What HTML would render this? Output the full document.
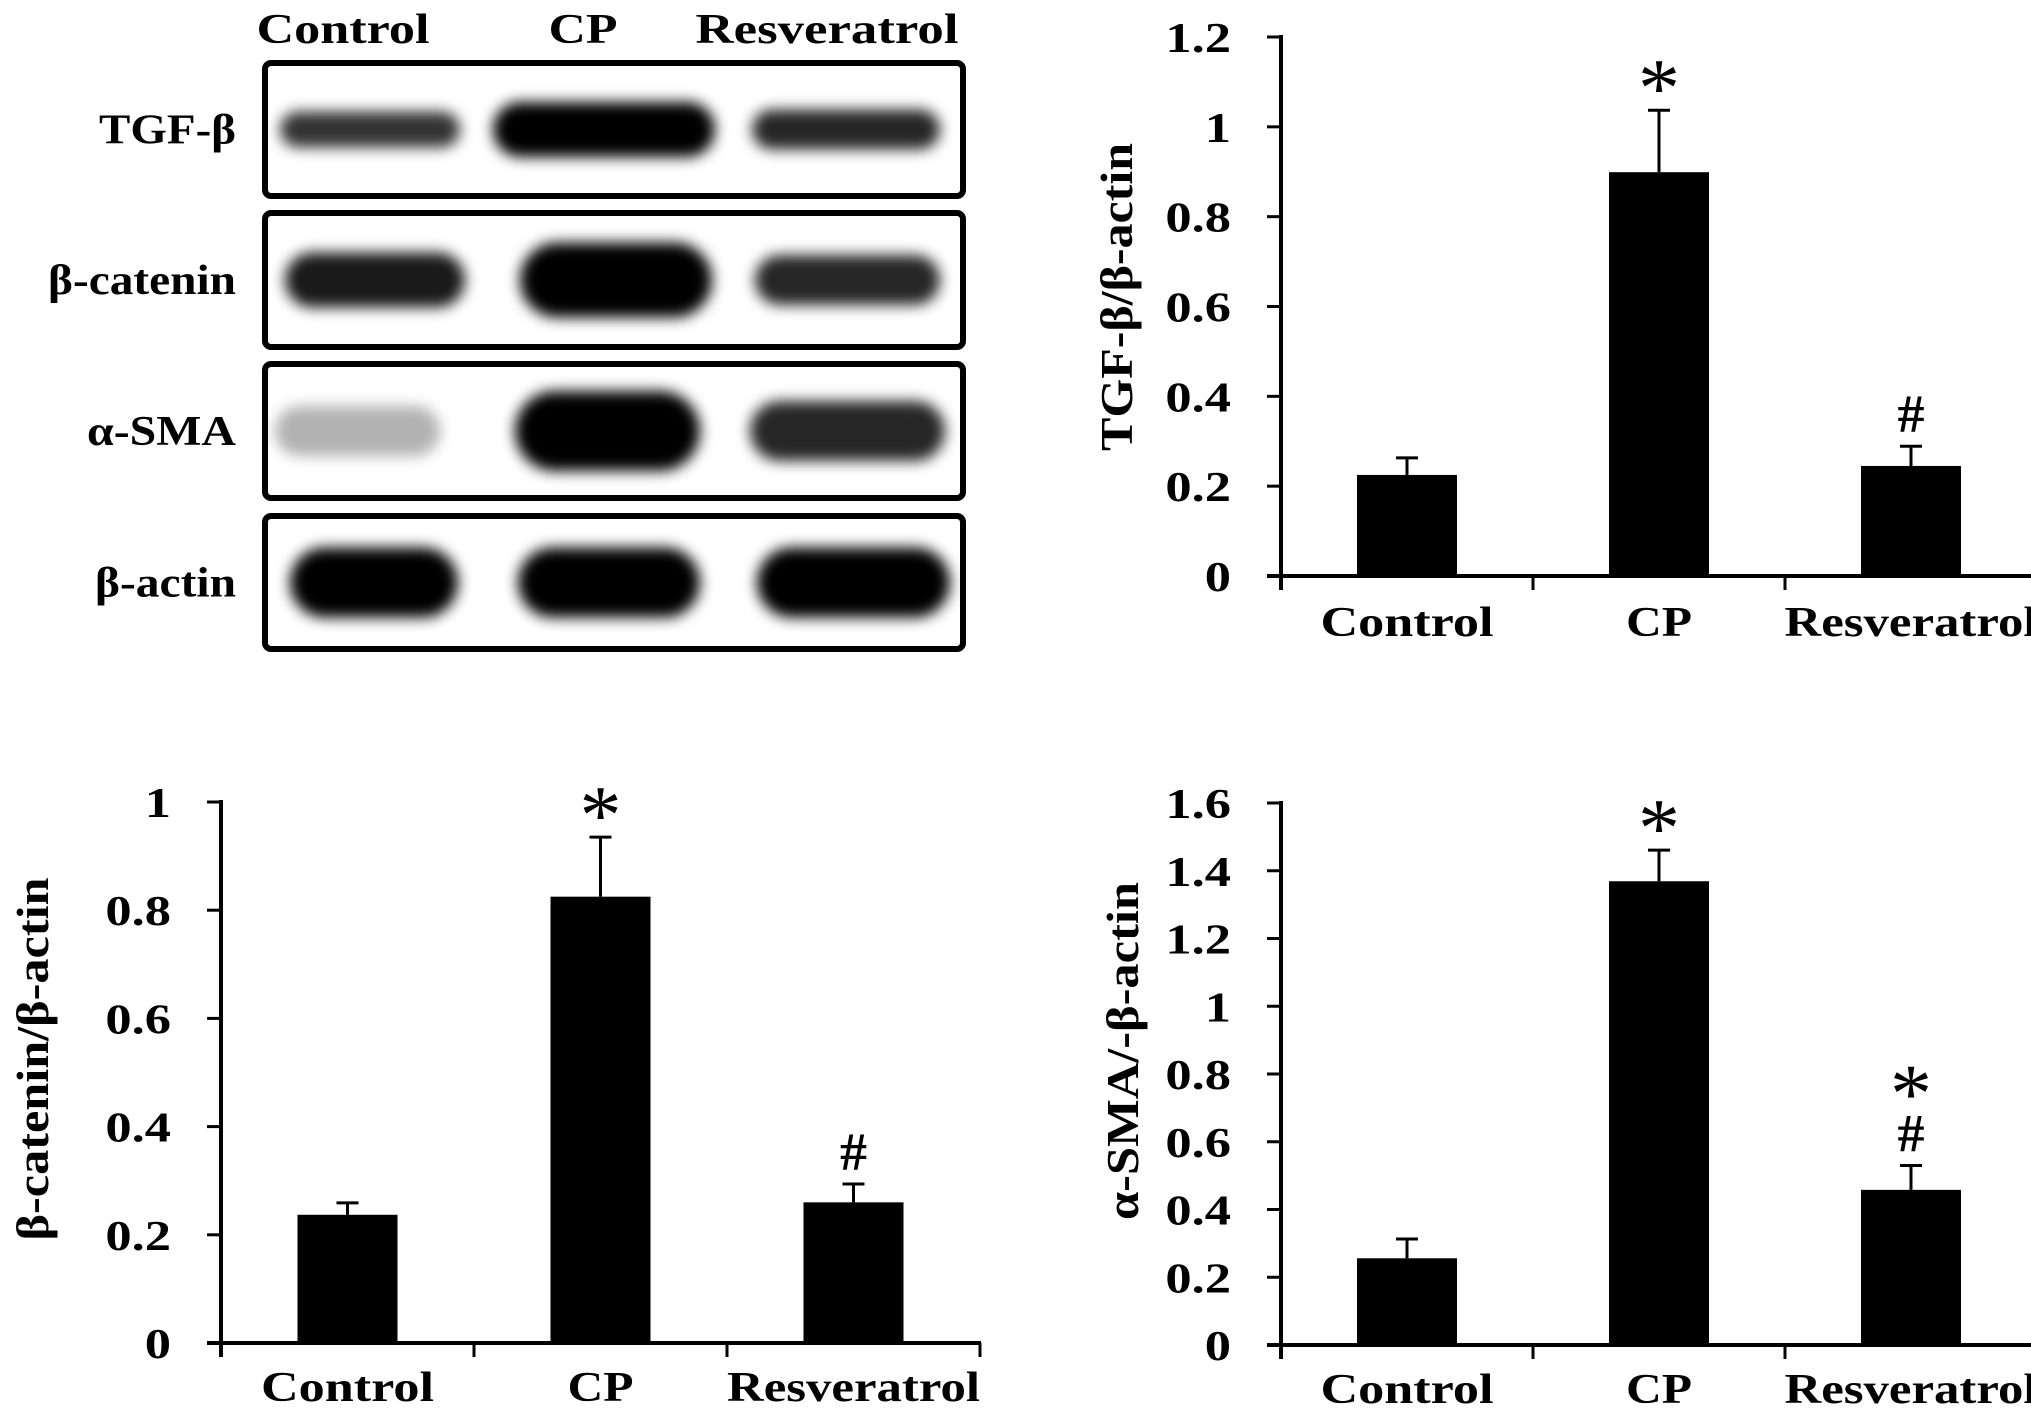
<!DOCTYPE html>
<html><head><meta charset="utf-8"><style>
html,body{margin:0;padding:0;background:#fff;}
svg{display:block;font-family:"Liberation Serif",serif;font-weight:bold;}
</style></head><body>
<svg id="fig" width="2031" height="1427" viewBox="0 0 2031 1427">
<defs><filter id="blur" x="-20%" y="-50%" width="140%" height="200%"><feGaussianBlur stdDeviation="7"/></filter></defs>
<g id="blot"></g>
<g id="chartA"></g>
<g id="chartB"></g>
<g id="chartC"></g>
</svg>
<script>
const NS='http://www.w3.org/2000/svg';
const categories=['Control','CP','Resveratrol'];
const catLabelWidths=[173,66,253];
const tgfValues=[0.225,0.899,0.245];
const tgfErrors=[0.038,0.138,0.044];
const tgfMarks=['','*','#'];
const catValues=[0.237,0.825,0.260];
const catErrors=[0.022,0.110,0.034];
const catMarks=['','*','#'];
const smaValues=[0.256,1.369,0.458];
const smaErrors=[0.057,0.092,0.072];
const smaMarks=['','*','*#'];
const tgfTicks=['0','0.2','0.4','0.6','0.8','1','1.2'];
const catTicks=['0','0.2','0.4','0.6','0.8','1'];
const smaTicks=['0','0.2','0.4','0.6','0.8','1','1.2','1.4','1.6'];
const blotRows=['TGF-β','β-catenin','α-SMA','β-actin'];
const blotIntensity=[[0.8,1,0.85],[0.9,1,0.85],[0.3,1,0.85],[1,1,1]];

function mk(tag,attrs,parent){const e=document.createElementNS(NS,tag);for(const k in attrs)e.setAttribute(k,attrs[k]);parent.appendChild(e);return e;}

const blot=document.getElementById('blot');
const boxes=[[63,196],[213,347],[364,498],[516,649]];
const rowLabelW=[137,188,149,141];
const bandGeom=[
 [[280,460,36],[493,715,55],[752,940,40]],
 [[285,465,55],[520,712,75],[755,940,50]],
 [[275,440,50],[515,700,80],[750,945,60]],
 [[290,458,70],[518,700,70],[757,950,70]]];
const headX=[343,583,827], headW=[173,69,263];
categories.forEach((c,i)=>{
 const t=mk('text',{x:headX[i],y:43,'text-anchor':'middle','font-size':42,textLength:headW[i],lengthAdjust:'spacingAndGlyphs'},blot);
 
 
 t.textContent=c;
});
blotRows.forEach((r,ri)=>{
 const [y1,y2]=boxes[ri];
 const cy=(y1+y2)/2;
 const t=mk('text',{x:236,y:cy+14,'text-anchor':'end','font-size':42,textLength:rowLabelW[ri],lengthAdjust:'spacingAndGlyphs'},blot);
 
 
 t.textContent=r;
 blotIntensity[ri].forEach((v,ci)=>{
  const g=bandGeom[ri][ci];
  const b=mk('rect',{x:g[0],y:cy-g[2]/2,width:g[1]-g[0],height:g[2],rx:g[2]/2,fill:'#000','fill-opacity':v,filter:'url(#blur)'},blot);
  
  
 });
 const bx=mk('rect',{x:265,y:y1,width:698,height:y2-y1,rx:6,fill:'none',stroke:'#000','stroke-width':6},blot);
 
 
});

function chart(gid,cfg,values,errors,marks,ticks){
 const g=document.getElementById(gid);
 const yS=v=>cfg.y0-(v/cfg.max)*(cfg.y0-cfg.yTop);
 const xC=i=>cfg.ax+(i+0.5)*cfg.cw;
 const ya=mk('line',{x1:cfg.ax,y1:cfg.yTop-2,x2:cfg.ax,y2:cfg.y0+14,stroke:'#000','stroke-width':4},g);
 
 
 const xa=mk('line',{x1:cfg.ax-14,y1:cfg.y0,x2:cfg.xEnd,y2:cfg.y0,stroke:'#000','stroke-width':4},g);
 
 
 ticks.forEach(tl=>{
  const v=parseFloat(tl), y=yS(v);
  const tk=mk('line',{x1:cfg.ax-14,y1:y,x2:cfg.ax,y2:y,stroke:'#000','stroke-width':3},g);
  
  
  const t=mk('text',{x:cfg.ax-50,y:y+15,'text-anchor':'end','font-size':42},g);
  
  
  t.textContent=tl;
  const w=t.getComputedTextLength();
  t.setAttribute('textLength',w*1.25);t.setAttribute('lengthAdjust','spacingAndGlyphs');
 });
 for(let i=1;i<=categories.length;i++){
  const x=cfg.ax+i*cfg.cw;
  const tk=mk('line',{x1:x,y1:cfg.y0,x2:x,y2:cfg.y0+14,stroke:'#000','stroke-width':3},g);
  
  
 }
 categories.forEach((c,i)=>{
  const x=xC(i), top=yS(values[i]), et=yS(values[i]+errors[i]);
  const el=mk('line',{x1:x,y1:top,x2:x,y2:et,stroke:'#000','stroke-width':3},g);
  
  
  const cap=mk('line',{x1:x-11,y1:et,x2:x+11,y2:et,stroke:'#000','stroke-width':3},g);
  
  
  const b=mk('rect',{x:x-50,y:top,width:100,height:cfg.y0-top,fill:'#000'},g);
  
  
  const lab=mk('text',{x:x,y:cfg.lab,'text-anchor':'middle','font-size':42,textLength:catLabelWidths[i],lengthAdjust:'spacingAndGlyphs'},g);
  
  
  lab.textContent=c;
  const m=marks[i];
  let off=0;
  for(let k=m.length-1;k>=0;k--){
   const ch=m[k];
   let t;
   if(ch==='#'){t=mk('text',{x:x,y:et-14-off,'text-anchor':'middle','font-size':54},g);off+=50;}
   else{t=mk('text',{x:x,y:et+6-off,'text-anchor':'middle','font-size':84,'font-weight':'normal'},g);off+=50;}
   
   
   t.textContent=ch;
  }
 });
 const tt=mk('text',{x:0,y:0,'text-anchor':'middle','font-size':46,textLength:cfg.tl,lengthAdjust:'spacingAndGlyphs',transform:`translate(${cfg.tx},${cfg.ty}) rotate(-90)`},g);
 
 
 tt.textContent=cfg.title;
}
chart('chartA',{ax:1281,y0:576,yTop:37,max:1.2,xEnd:2031,cw:252,lab:636,tx:1132,ty:297,tl:308,title:'TGF-β/β-actin'},tgfValues,tgfErrors,tgfMarks,tgfTicks);
chart('chartB',{ax:221,y0:1343,yTop:802,max:1,xEnd:981,cw:253,lab:1401,tx:48,ty:1059,tl:363,title:'β-catenin/β-actin'},catValues,catErrors,catMarks,catTicks);
chart('chartC',{ax:1281,y0:1345,yTop:803,max:1.6,xEnd:2031,cw:252,lab:1403,tx:1138,ty:1051,tl:338,title:'α-SMA/-β-actin'},smaValues,smaErrors,smaMarks,smaTicks);
</script>
</body></html>
